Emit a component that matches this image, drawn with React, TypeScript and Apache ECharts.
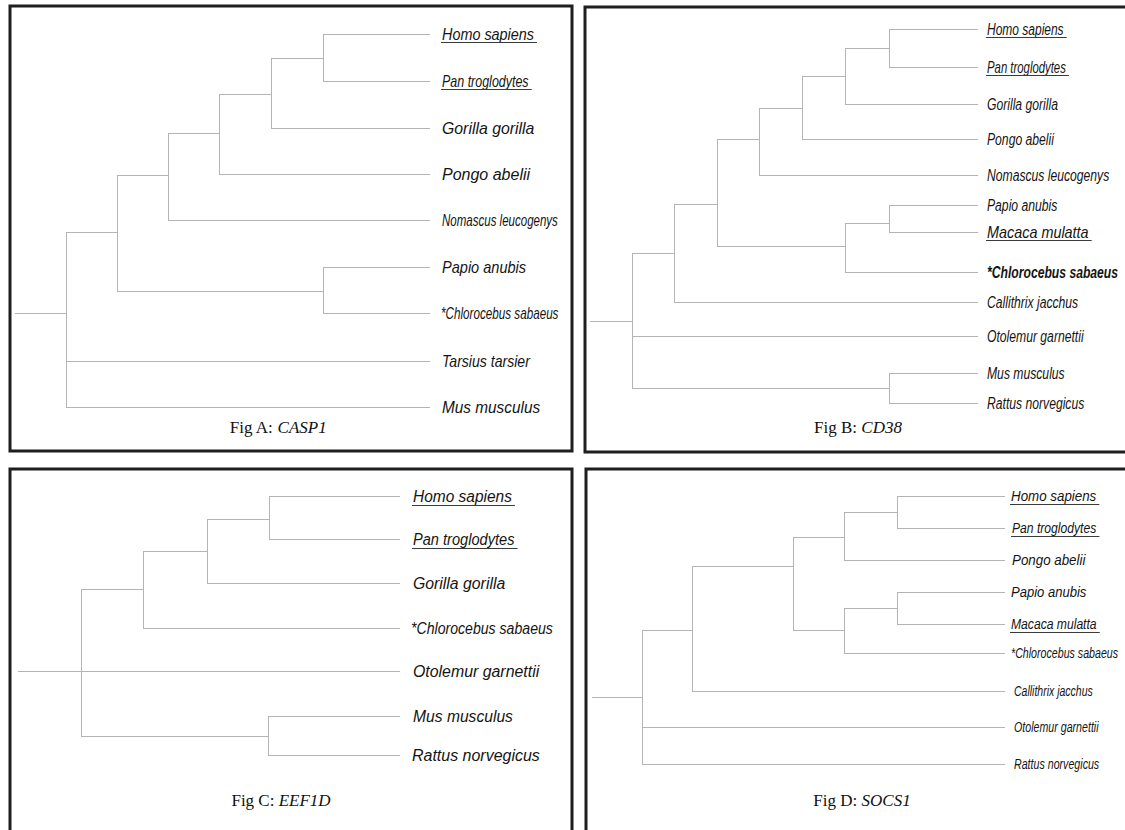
import React, { useEffect, useRef } from "react";
import * as echarts from "echarts";

// ---------- DATA (panel-local units) ----------
// Panel A: CASP1
const A_LEAVES = ["Homo sapiens", "Pan troglodytes", "Gorilla gorilla", "Pongo abelii", "Nomascus leucogenys", "Papio anubis", "*Chlorocebus sabaeus", "Tarsius tarsier", "Mus musculus"];
const A_LEAF_Y = [28, 75, 122, 168, 214, 261, 307, 355, 401];
const A_TIP_X = 420;
const A_STEM_X = 5;
// [id, x, y, children]
const A_NODES: [string, number, number, string[]][] = [
  ["a1", 313, 52, ["Homo sapiens", "Pan troglodytes"]],
  ["a2", 261, 88, ["a1", "Gorilla gorilla"]],
  ["a3", 209, 127, ["a2", "Pongo abelii"]],
  ["a4", 158, 169, ["a3", "Nomascus leucogenys"]],
  ["a5", 313, 285, ["Papio anubis", "*Chlorocebus sabaeus"]],
  ["a6", 107, 226, ["a4", "a5"]],
  ["aRoot", 56, 307, ["a6", "Tarsius tarsier", "Mus musculus"]],
];

// Panel B: CD38
const B_LEAVES = ["Homo sapiens", "Pan troglodytes", "Gorilla gorilla", "Pongo abelii", "Nomascus leucogenys", "Papio anubis", "Macaca mulatta", "*Chlorocebus sabaeus", "Callithrix jacchus", "Otolemur garnettii", "Mus musculus", "Rattus norvegicus"];
const B_LEAF_Y = [22, 60, 97, 132, 168, 198, 225, 265, 295, 329, 366, 396];
const B_TIP_X = 393;
const B_STEM_X = 5;
const B_NODES: [string, number, number, string[]][] = [
  ["b1", 304, 41, ["Homo sapiens", "Pan troglodytes"]],
  ["b2", 260, 69, ["b1", "Gorilla gorilla"]],
  ["b3", 217, 101, ["b2", "Pongo abelii"]],
  ["b4", 174, 132, ["b3", "Nomascus leucogenys"]],
  ["b5", 304, 216, ["Papio anubis", "Macaca mulatta"]],
  ["b6", 260, 239, ["b5", "*Chlorocebus sabaeus"]],
  ["b7", 132, 197, ["b4", "b6"]],
  ["b8", 89, 246, ["b7", "Callithrix jacchus"]],
  ["b9", 304, 381, ["Mus musculus", "Rattus norvegicus"]],
  ["bRoot", 47, 314, ["b8", "Otolemur garnettii", "b9"]],
];

// Panel C: EEF1D
const C_LEAVES = ["Homo sapiens", "Pan troglodytes", "Gorilla gorilla", "*Chlorocebus sabaeus", "Otolemur garnettii", "Mus musculus", "Rattus norvegicus"];
const C_LEAF_Y = [27, 70, 114, 159, 202, 247, 286];
const C_TIP_X = 390;
const C_STEM_X = 8;
const C_NODES: [string, number, number, string[]][] = [
  ["c1", 259, 50, ["Homo sapiens", "Pan troglodytes"]],
  ["c2", 197, 82, ["c1", "Gorilla gorilla"]],
  ["c3", 133, 120, ["c2", "*Chlorocebus sabaeus"]],
  ["c4", 258, 267, ["Mus musculus", "Rattus norvegicus"]],
  ["cRoot", 71, 202, ["c3", "Otolemur garnettii", "c4"]],
];

// Panel D: SOCS1
const D_LEAVES = ["Homo sapiens", "Pan troglodytes", "Pongo abelii", "Papio anubis", "Macaca mulatta", "*Chlorocebus sabaeus", "Callithrix jacchus", "Otolemur garnettii", "Rattus norvegicus"];
const D_LEAF_Y = [27, 59, 91, 123, 155, 184, 222, 258, 295];
const D_TIP_X = 419;
const D_STEM_X = 6;
const D_NODES: [string, number, number, string[]][] = [
  ["d1", 311, 43, ["Homo sapiens", "Pan troglodytes"]],
  ["d2", 258, 68, ["d1", "Pongo abelii"]],
  ["d3", 311, 139, ["Papio anubis", "Macaca mulatta"]],
  ["d4", 258, 161, ["d3", "*Chlorocebus sabaeus"]],
  ["d5", 207, 97, ["d2", "d4"]],
  ["d6", 106, 161, ["d5", "Callithrix jacchus"]],
  ["dRoot", 56, 228, ["d6", "Otolemur garnettii", "Rattus norvegicus"]],
];

const CAPTION_PREFIX = ["Fig A: ", "Fig B: ", "Fig C: ", "Fig D: "];
const CAPTION_GENE = ["CASP1", "CD38", "EEF1D", "SOCS1"];

// ---------- STYLES / LAYOUT ----------
type LabelStyle = { size: number[]; squeeze: number[]; underline: boolean[]; bold: boolean[]; gap: number[] };
const A_STYLE: LabelStyle = {
  size: [16, 16, 16, 16, 16, 16, 16, 16, 16],
  squeeze: [0.9, 0.78, 0.99, 1.0, 0.72, 0.91, 0.73, 0.88, 0.96],
  underline: [true, true, false, false, false, false, false, false, false],
  bold: [false, false, false, false, false, false, false, false, false],
  gap: [12, 12, 12, 12, 12, 12, 11, 12, 12],
};
const B_STYLE: LabelStyle = {
  size: [16, 16, 16, 16, 16, 16, 16, 16, 16, 16, 16, 16],
  squeeze: [0.75, 0.71, 0.76, 0.76, 0.76, 0.76, 0.9, 0.76, 0.76, 0.76, 0.76, 0.76],
  underline: [true, true, false, false, false, false, true, false, false, false, false, false],
  bold: [false, false, false, false, false, false, false, true, false, false, false, false],
  gap: [9, 9, 9, 9, 9, 9, 9, 9, 9, 9, 9, 9],
};
const C_STYLE: LabelStyle = {
  size: [17, 17, 17, 17, 17, 17, 17],
  squeeze: [0.91, 0.86, 0.93, 0.83, 0.935, 0.92, 0.94],
  underline: [true, true, false, false, false, false, false],
  bold: [false, false, false, false, false, false, false],
  gap: [13, 13, 13, 11, 13, 13, 12],
};
const D_STYLE: LabelStyle = {
  size: [15, 15, 15, 15, 15, 15, 15, 15, 15],
  squeeze: [0.89, 0.81, 0.89, 0.87, 0.81, 0.71, 0.7, 0.71, 0.71],
  underline: [true, true, false, false, true, false, false, false, false],
  bold: [false, false, false, false, false, false, false, false, false],
  gap: [6, 7, 7, 6, 6, 6, 9, 9, 9],
};

const PANELS = [
  { leaves: A_LEAVES, leafY: A_LEAF_Y, tip: A_TIP_X, stem: A_STEM_X, nodes: A_NODES, style: A_STYLE, grid: { left: 10, top: 6, width: 562, height: 445 }, caption: { x: 278, y: 427 } },
  { leaves: B_LEAVES, leafY: B_LEAF_Y, tip: B_TIP_X, stem: B_STEM_X, nodes: B_NODES, style: B_STYLE, grid: { left: 585, top: 7, width: 540, height: 445 }, caption: { x: 858, y: 427 } },
  { leaves: C_LEAVES, leafY: C_LEAF_Y, tip: C_TIP_X, stem: C_STEM_X, nodes: C_NODES, style: C_STYLE, grid: { left: 10, top: 469, width: 562, height: 361 }, caption: { x: 281, y: 800 } },
  { leaves: D_LEAVES, leafY: D_LEAF_Y, tip: D_TIP_X, stem: D_STEM_X, nodes: D_NODES, style: D_STYLE, grid: { left: 586, top: 469, width: 539, height: 361 }, caption: { x: 862, y: 800 } },
];

const BORDERS = [
  { x: 10, y: 6, w: 562, h: 445 },
  { x: 585, y: 7, w: 560, h: 445 },
  { x: 10, y: 469, w: 562, h: 400 },
  { x: 586, y: 469, w: 560, h: 400 },
];

const SANS = '"Liberation Sans", Arial, Helvetica, sans-serif';
const SERIF = '"Liberation Serif", "Times New Roman", serif';
const BRANCH_COLOR = "#b4b4b4";
const TEXT_COLOR = "#141414";

let measureCtx: CanvasRenderingContext2D | null = null;
function measure(text: string, size: number, bold: boolean): number {
  if (!measureCtx) measureCtx = document.createElement("canvas").getContext("2d");
  if (!measureCtx) return text.length * size * 0.5;
  measureCtx.font = `italic ${bold ? "bold " : ""}${size}px ${SANS}`;
  return measureCtx.measureText(text).width;
}

function buildSegments(p: (typeof PANELS)[number]) {
  const pos: Record<string, [number, number]> = {};
  p.leaves.forEach((n, i) => (pos[n] = [p.tip, p.leafY[i]]));
  p.nodes.forEach(([id, x, y]) => (pos[id] = [x, y]));
  const segs: number[][][] = [];
  p.nodes.forEach(([, x, y, kids]) => {
    const ys = kids.map((k) => pos[k][1]).concat([y]);
    segs.push([[x, Math.min(...ys)], [x, Math.max(...ys)]]);
    kids.forEach((k) => segs.push([[x, pos[k][1]], [pos[k][0], pos[k][1]]]));
  });
  const root = p.nodes[p.nodes.length - 1];
  segs.push([[p.stem, root[2]], [root[1], root[2]]]);
  return segs;
}

function buildOption() {
  const grid: any[] = [];
  const xAxis: any[] = [];
  const yAxis: any[] = [];
  const series: any[] = [];
  PANELS.forEach((p, pi) => {
    grid.push({ ...p.grid, containLabel: false });
    xAxis.push({ type: "value", gridIndex: pi, min: 0, max: p.grid.width, show: false });
    yAxis.push({ type: "value", gridIndex: pi, min: 0, max: p.grid.height, inverse: true, show: false });
    series.push({
      type: "lines",
      coordinateSystem: "cartesian2d",
      xAxisIndex: pi,
      yAxisIndex: pi,
      silent: true,
      lineStyle: { color: BRANCH_COLOR, width: 1, opacity: 1, curveness: 0 },
      data: buildSegments(p).map((s) => ({ coords: s })),
      z: 2,
    });
    const st = p.style;
    series.push({
      type: "custom",
      coordinateSystem: "cartesian2d",
      xAxisIndex: pi,
      yAxisIndex: pi,
      silent: true,
      clip: false,
      data: p.leaves.map((n, i) => [p.tip, p.leafY[i], i]),
      encode: { x: 0, y: 1 },
      renderItem: (params: any, api: any) => {
        const i = params.dataIndex;
        const pt = api.coord([api.value(0), api.value(1)]);
        const size = st.size[i];
        const k = st.squeeze[i];
        const bold = st.bold[i];
        const x0 = pt[0] + st.gap[i];
        const children: any[] = [
          {
            type: "text",
            x: x0,
            y: pt[1],
            scaleX: k,
            style: {
              text: p.leaves[i],
              fontFamily: SANS,
              fontSize: size,
              fontStyle: "italic",
              fontWeight: bold ? "bold" : "normal",
              fill: TEXT_COLOR,
              align: "left",
              verticalAlign: "middle",
            },
          },
        ];
        if (st.underline[i]) {
          const w = measure(p.leaves[i], size, bold) * k;
          const uy = Math.round(pt[1] + size * 0.5) + 0.5;
          children.push({
            type: "line",
            shape: { x1: x0 - 1, y1: uy, x2: x0 + w + 3, y2: uy },
            style: { stroke: "#3a3a3a", lineWidth: 1.2 },
          });
        }
        return { type: "group", children };
      },
      z: 3,
    });
  });

  const graphic: any[] = [];
  BORDERS.forEach((b) => {
    graphic.push({
      type: "rect",
      shape: { x: b.x, y: b.y, width: b.w, height: b.h },
      style: { fill: "none", stroke: "#1e1e1e", lineWidth: 3 },
      silent: true,
      z: 10,
    });
  });
  PANELS.forEach((p, pi) => {
    graphic.push({
      type: "text",
      x: p.caption.x,
      y: p.caption.y,
      silent: true,
      style: {
        text: `{r|${CAPTION_PREFIX[pi]}}{i|${CAPTION_GENE[pi]}}`,
        align: "center",
        verticalAlign: "middle",
        rich: {
          r: { fontFamily: SERIF, fontSize: 17, fill: "#111" },
          i: { fontFamily: SERIF, fontSize: 17, fontStyle: "italic", fill: "#111" },
        },
      },
      z: 10,
    });
  });

  return {
    animation: false,
    backgroundColor: "#ffffff",
    grid,
    xAxis,
    yAxis,
    series,
    graphic,
  };
}

export default function App() {
  const ref = useRef<HTMLDivElement>(null);
  useEffect(() => {
    if (!ref.current) return;
    const chart = echarts.init(ref.current, null, { renderer: "svg" });
    chart.setOption(buildOption());
    return () => chart.dispose();
  }, []);
  return (
    <div
      ref={ref}
      style={{ position: "fixed", left: 0, top: 0, width: 1125, height: 830, background: "#fff" }}
    />
  );
}
